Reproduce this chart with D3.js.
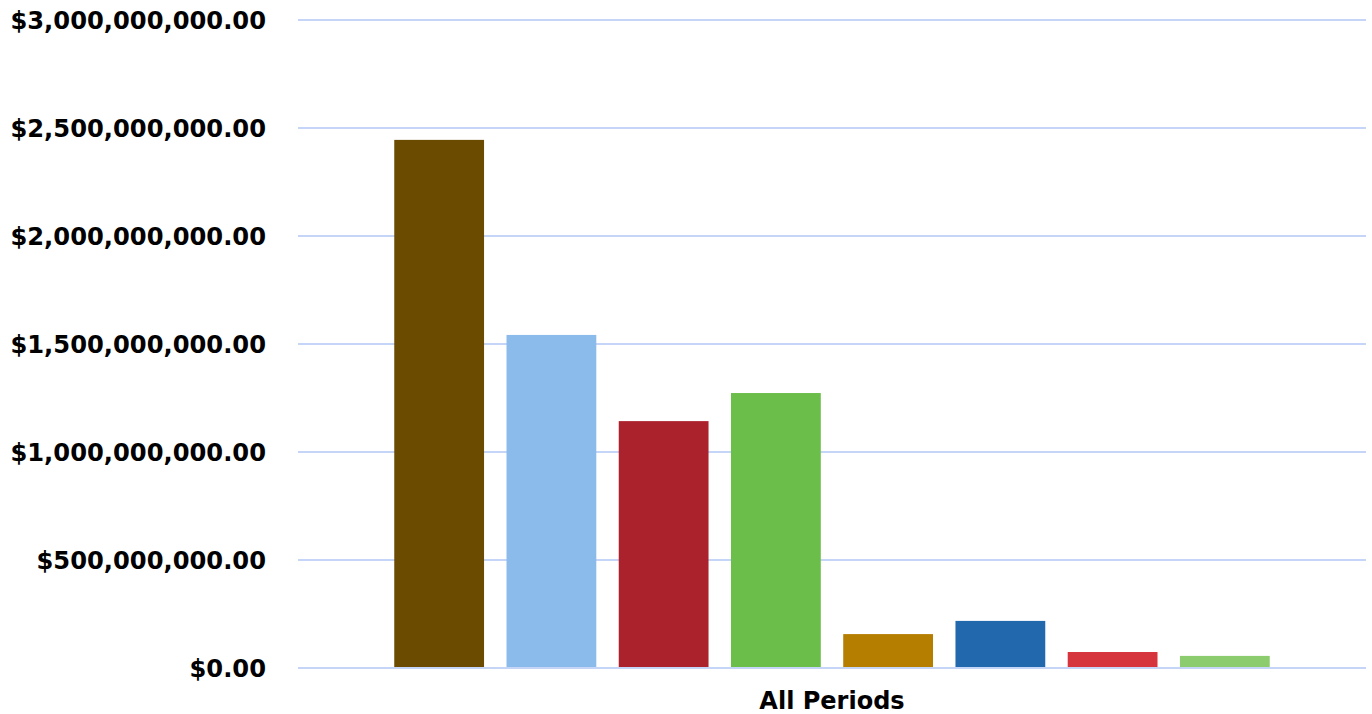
<!DOCTYPE html>
<html lang="en">
<head>
  <meta charset="utf-8">
  <title>All Periods</title>
  <script src="https://d3js.org/d3.v7.min.js"></script>
  <style>
    body { margin: 0; background: #fff; }
    text { font-family: "DejaVu Sans", Verdana, sans-serif; font-weight: bold; fill: #000; }
  </style>
</head>
<body>
  <div id="my_dataviz"></div>

  <script>
    // data
    const categories = ["All Periods"]
    const seriesNames = ["Series 1", "Series 2", "Series 3", "Series 4", "Series 5", "Series 6", "Series 7", "Series 8"]
    const seriesValues = [2445000000, 1542000000, 1143000000, 1273000000, 157000000, 218000000, 74000000, 56000000]
    const yTicks = [0, 500000000, 1000000000, 1500000000, 2000000000, 2500000000, 3000000000]

    const colors = ["#6b4b00", "#8bbbeb", "#ab222c", "#6cbe4a", "#b67e00", "#2268ac", "#d6353d", "#8ccc6e"]

    const width = 1372, height = 714
    const margin = { top: 20, right: 6, bottom: 46, left: 298 }

    const svg = d3.select("#my_dataviz")
      .append("svg")
      .attr("width", width)
      .attr("height", height)

    const x0 = d3.scaleBand()
      .domain(categories)
      .range([margin.left, width - margin.right])
      .paddingOuter(0.0947)

    const x1 = d3.scaleBand()
      .domain(seriesNames)
      .range([0, x0.bandwidth()])
      .paddingInner(0.2)
      .paddingOuter(0.1)

    const y = d3.scaleLinear()
      .domain([0, 3000000000])
      .range([height - margin.bottom, margin.top])

    const fmt = v => "$" + d3.format(",.2f")(v)

    // gridlines
    svg.append("g")
      .selectAll("line")
      .data(yTicks)
      .join("line")
      .attr("x1", margin.left)
      .attr("x2", width - margin.right)
      .attr("y1", d => y(d))
      .attr("y2", d => y(d))
      .attr("stroke", "#c4d5f8")
      .attr("stroke-width", 2)

    // y labels
    svg.append("g")
      .selectAll("text")
      .data(yTicks)
      .join("text")
      .attr("x", 266)
      .attr("y", d => y(d))
      .attr("dy", "0.36em")
      .attr("text-anchor", "end")
      .style("font-size", "24.2px")
      .text(fmt)

    // bars
    const groups = svg.append("g")
      .selectAll("g")
      .data(categories)
      .join("g")
      .attr("transform", d => `translate(${x0(d)},0)`)

    groups.selectAll("rect")
      .data(() => seriesNames.map((s, i) => ({ key: s, value: seriesValues[i], color: colors[i] })))
      .join("rect")
      .attr("x", d => x1(d.key))
      .attr("width", x1.bandwidth())
      .attr("y", d => y(d.value))
      .attr("height", d => y(0) - y(d.value) - 1)
      .attr("fill", d => d.color)

    // category label
    svg.append("g")
      .selectAll("text")
      .data(categories)
      .join("text")
      .attr("x", d => x0(d) + x0.bandwidth() / 2)
      .attr("y", 709)
      .attr("text-anchor", "middle")
      .style("font-size", "24px")
      .text(d => d)
  </script>
</body>
</html>
